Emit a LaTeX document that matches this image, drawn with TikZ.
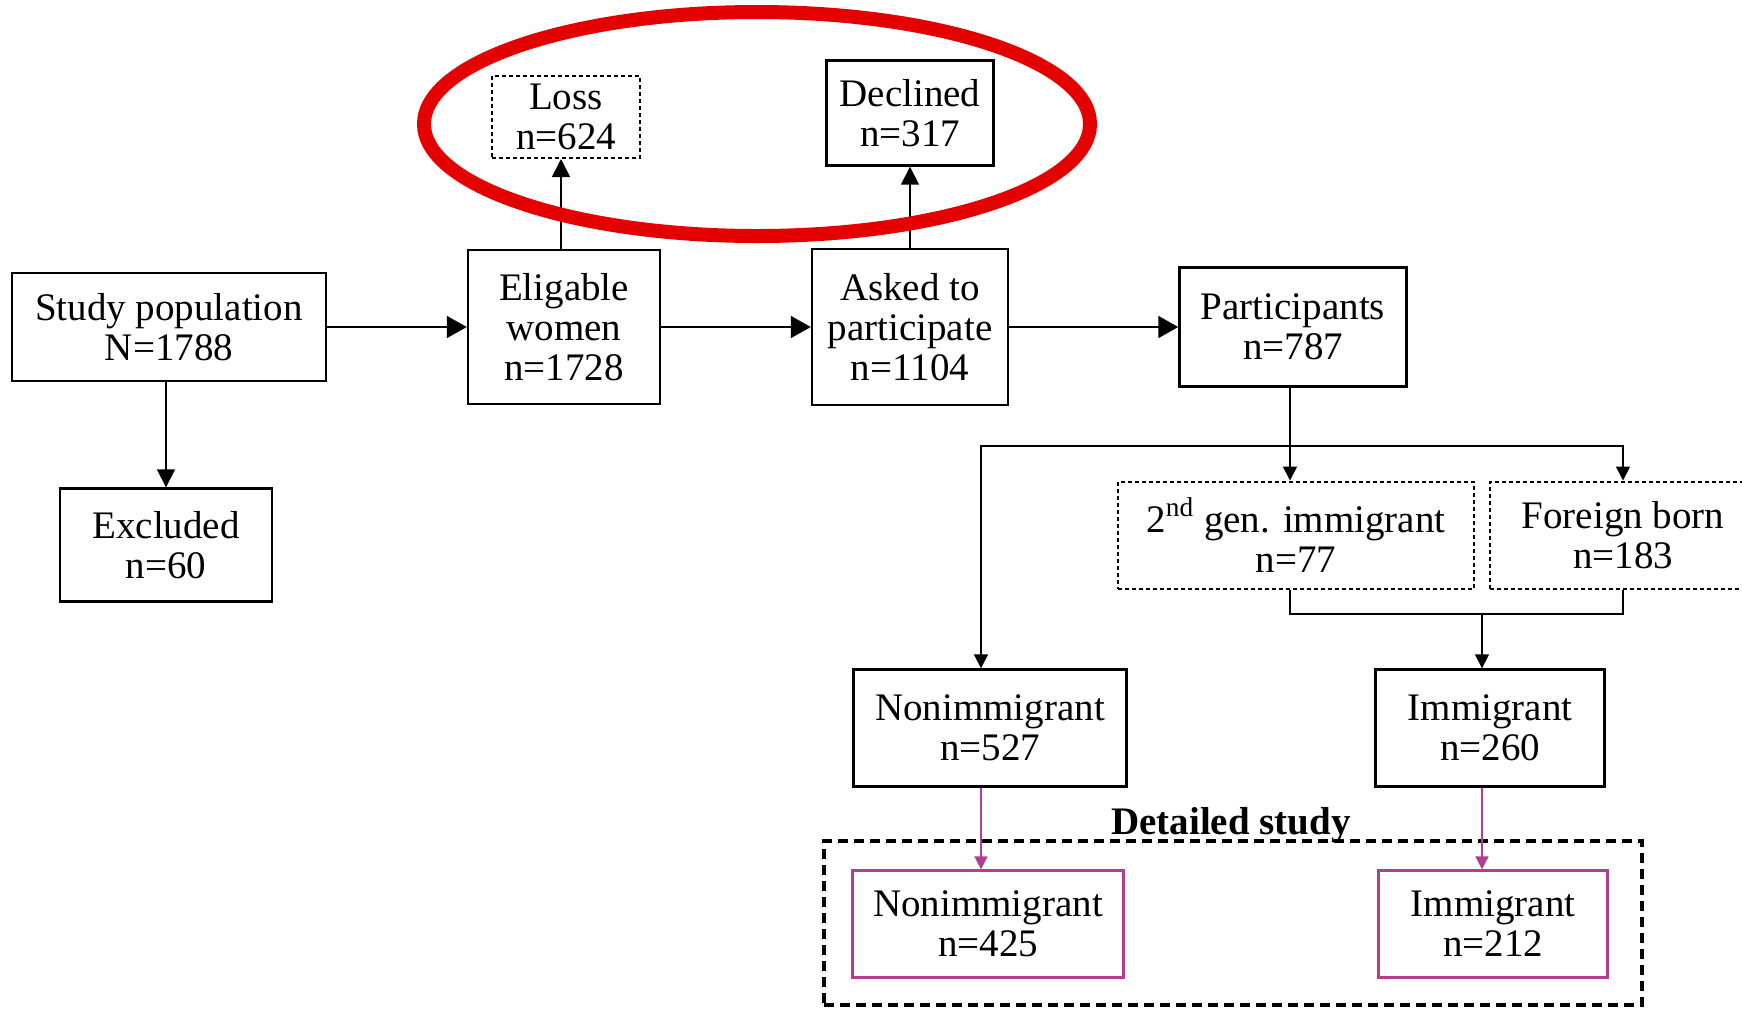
\documentclass[tikz,border=0pt]{standalone}
\usepackage{fontspec}
\setmainfont{Liberation Serif}
\usetikzlibrary{arrows.meta}
\newlength{\du}
\setlength{\du}{0.5pt}
\definecolor{ringred}{rgb}{0.900000, 0.000000, 0.000000}
\definecolor{flowpurple}{rgb}{0.690000, 0.250000, 0.560000}
\tikzset{
  box/.style={draw=black, line width=2.4\du, align=center, inner sep=0pt,
    font=\fontsize{19.5}{20}\selectfont},
  dotbox/.style={box, line width=2\du, dash pattern=on 4\du off 3\du},
  purplebox/.style={box, draw=flowpurple, line width=2.2\du},
  detailbox/.style={draw=black, line width=3.6\du, dash pattern=on 10\du off 6\du, inner sep=0pt},
  bigarr/.style={line width=1.6\du, -{Triangle[length=10pt,width=11pt]}},
  midarr/.style={line width=1.6\du, -{Triangle[length=9pt,width=9pt]}},
  smallarr/.style={line width=1.6\du, -{Triangle[length=7pt,width=7pt]}},
  purplearr/.style={draw=flowpurple, line width=1.6\du, -{Triangle[length=6.5pt,width=6.5pt]}},
  link/.style={line width=1.6\du},
}

\begin{document}
\begin{tikzpicture}
\pgftransformxscale{1.000000}
\pgftransformyscale{-1.000000}
\useasboundingbox (0\du,0\du) rectangle (1742\du,1008\du);
% first row
\node[box, minimum width=314\du, minimum height=108\du] (study) at (169\du,327\du){Study population\\N=1788};
\node[box, minimum width=192\du, minimum height=154\du] (elig) at (564\du,327\du){Eligable\\women\\n=1728};
\node[box, minimum width=196\du, minimum height=156\du] (asked) at (910\du,327\du){Asked to\\participate\\n=1104};
\node[box, minimum width=227\du, minimum height=119\du] (part) at (1293\du,327\du){Participants\\n=787};
% drop outs
\node[box, minimum width=212\du, minimum height=113\du] (excl) at (166\du,545\du){Excluded\\n=60};
\node[dotbox, minimum width=148\du, minimum height=82\du] (loss) at (566\du,117\du){Loss\\n=624};
\node[box, minimum width=167\du, minimum height=105\du] (decl) at (910\du,113\du){Declined\\n=317};
% origin
\node[dotbox, minimum width=356\du, minimum height=107\du] (gen2) at (1296\du,535\du){2\textsuperscript{nd} gen. immigrant\\n=77};
\node[dotbox, minimum width=266\du, minimum height=107\du] (foreign) at (1623\du,535\du){Foreign born\\n=183};
\node[box, minimum width=273\du, minimum height=117\du] (nonim) at (990\du,728\du){Nonimmigrant\\n=527};
\node[box, minimum width=229\du, minimum height=117\du] (immig) at (1490\du,728\du){Immigrant\\n=260};
% detailed study
\node[detailbox, minimum width=818\du, minimum height=164\du] (detail) at (1233\du,923\du){};
\node[anchor=base, font=\fontsize{19.5}{20}\selectfont\bfseries] (dlabel) at (1231\du,834\du){Detailed study};
\node[purplebox, minimum width=271\du, minimum height=107\du] (dnon) at (988\du,924\du){Nonimmigrant\\n=425};
\node[purplebox, minimum width=229\du, minimum height=107\du] (dimm) at (1493\du,924\du){Immigrant\\n=212};
% branch points
\coordinate (split) at (1290\du,446\du);
\coordinate (lsplit) at (981\du,446\du);
\coordinate (merge) at (1482\du,614\du);
% connectors
\draw[bigarr] (study) -- (elig);
\draw[bigarr] (elig) -- (asked);
\draw[bigarr] (asked) -- (part);
\draw[midarr] (excl.north |- study.south) -- (excl.north);
\draw[midarr] ([xshift=-5\du]loss.south |- elig.north) -- ([xshift=-5\du]loss.south);
\draw[midarr] (decl.south |- asked.north) -- (decl.south);
\draw[link] (split |- part.south) -- (split);
\draw[smallarr] (split) -- (split |- gen2.north);
\draw[smallarr] (split) -| (foreign.north);
\draw[smallarr] (split) -- (lsplit) -- (lsplit |- nonim.north);
\draw[link] (split |- gen2.south) -- (split |- merge) -- (foreign.south |- merge) -- (foreign.south);
\draw[smallarr] (merge) -- (merge |- immig.north);
\draw[purplearr] (lsplit |- nonim.south) -- (lsplit |- dnon.north);
\draw[purplearr] (merge |- immig.south) -- (merge |- dimm.north);
% highlight
\draw[draw=ringred, line width=14\du] (757\du,124\du) ellipse [x radius=333\du, y radius=112\du];
\end{tikzpicture}
\end{document}
